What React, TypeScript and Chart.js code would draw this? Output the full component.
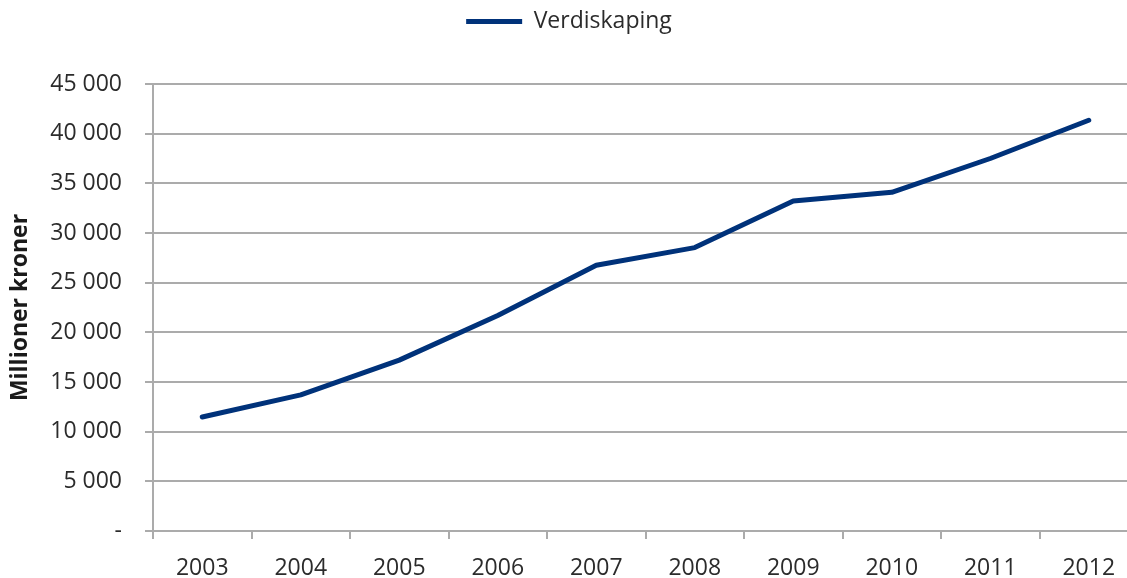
import React, { useEffect, useRef } from "react";
import { Chart, registerables } from "chart.js";

Chart.register(...registerables);

const years = ["2003", "2004", "2005", "2006", "2007", "2008", "2009", "2010", "2011", "2012"];
const verdiskaping = [11480, 13700, 17200, 21700, 26750, 28530, 33220, 34100, 37500, 41350];
const seriesLabel = "Verdiskaping";
const yTitle = "Millioner kroner";

const FONT = "'Open Sans', sans-serif";
const LINE = "#00327a";
const GRID = "#ababab";
const TEXT = "#2b2b2b";

function fmt(v: number): string {
  if (v === 0) return "-";
  const s = Math.round(v).toString();
  return s.replace(/\B(?=(\d{3})+(?!\d))/g, " ");
}

const legendSpacer = {
  id: "legendSpacer",
  afterInit(chart: any) {
    const lg = chart.legend;
    if (!lg) return;
    const orig = lg.fit.bind(lg);
    lg.fit = function () {
      orig();
      this.height += 41;
    };
  },
};

export default function App() {
  const ref = useRef<HTMLCanvasElement | null>(null);
  useEffect(() => {
    document.body.style.margin = "0";
    document.body.style.overflow = "hidden";
    const ctx = ref.current!;
    const chart = new Chart(ctx, {
      type: "line",
      data: {
        labels: years,
        datasets: [
          {
            label: seriesLabel,
            data: verdiskaping,
            borderColor: LINE,
            backgroundColor: LINE,
            borderWidth: 5,
            pointRadius: 0,
            tension: 0,
            borderJoinStyle: "round",
            borderCapStyle: "round",
          },
        ],
      },
      plugins: [legendSpacer],
      options: {
        animation: false,
        responsive: false,
        layout: { padding: { top: 0, right: 7, left: 0, bottom: 0 } },
        plugins: {
          tooltip: { enabled: false },
          legend: {
            position: "top",
            labels: {
              font: { family: FONT, size: 23 },
              color: TEXT,
              boxWidth: 56,
              boxHeight: 5,
              padding: 10,
              generateLabels: (c: any) =>
                c.data.datasets.map((d: any, i: number) => ({
                  text: d.label,
                  fillStyle: LINE,
                  strokeStyle: LINE,
                  lineWidth: 0,
                  hidden: false,
                  datasetIndex: i,
                  fontColor: TEXT,
                })),
            },
          },
        },
        scales: {
          x: {
            type: "category",
            offset: true,
            grid: {
              offset: true,
              drawOnChartArea: false,
              drawTicks: true,
              tickLength: 8,
              color: GRID,
              lineWidth: 2,
            },
            border: { color: GRID, width: 2 },
            ticks: {
              font: { family: FONT, size: 23 },
              color: TEXT,
              padding: 16,
              maxRotation: 0,
            },
            afterFit: (s: any) => {
              s.height = 47;
            },
          },
          y: {
            min: 0,
            max: 45000,
            grid: {
              color: GRID,
              lineWidth: 2,
              tickLength: 8,
            },
            border: { color: GRID, width: 2 },
            ticks: {
              stepSize: 5000,
              font: { family: FONT, size: 23 },
              color: TEXT,
              padding: 23,
              callback: (v: any) => fmt(Number(v)),
            },
            title: {
              display: true,
              text: yTitle,
              font: { family: FONT, size: 23, weight: "bold" },
              color: "#1a1a1a",
              padding: { top: 7, bottom: 0 },
            },
            afterFit: (s: any) => {
              s.width = 153;
            },
          },
        },
      },
    });
    return () => chart.destroy();
  }, []);
  return (
    <div style={{ width: 1127, height: 578, overflow: "hidden", position: "relative" }}>
      <canvas ref={ref} width={1145} height={578} style={{ display: "block" }} />
    </div>
  );
}
